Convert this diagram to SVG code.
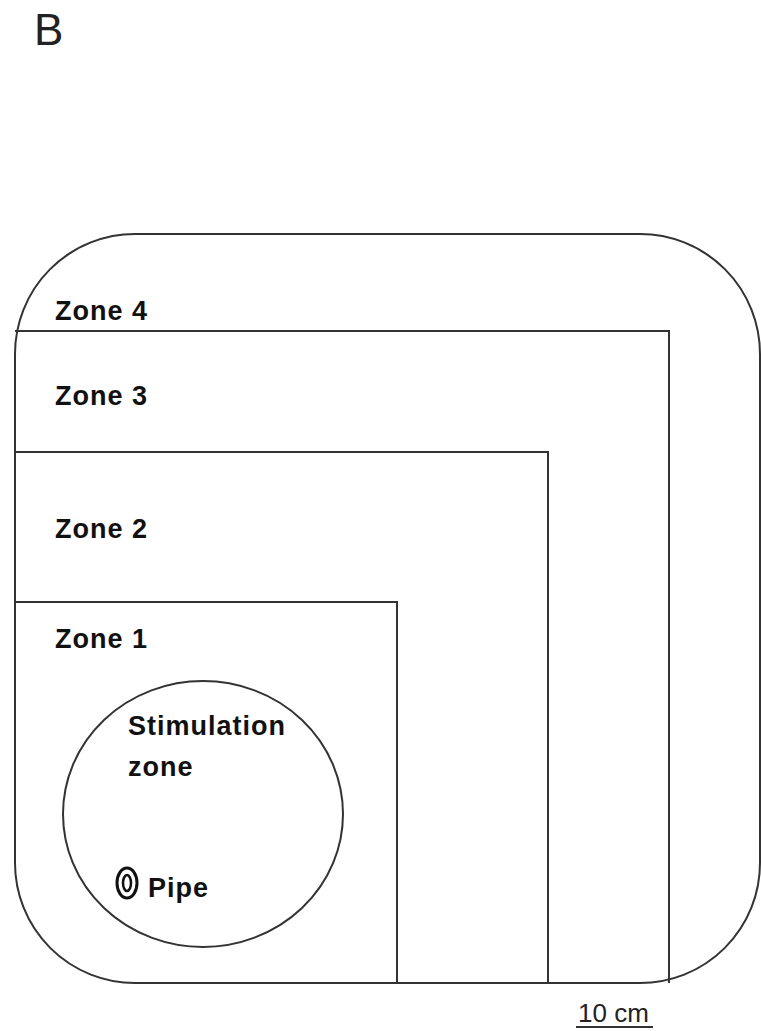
<svg xmlns="http://www.w3.org/2000/svg" width="761" height="1031" viewBox="0 0 761 1031">
<style>
.ln{fill:none;stroke:#333;stroke-width:2}
.lb{font-family:"Liberation Sans",Arial,sans-serif;font-weight:bold;font-size:27px;letter-spacing:1px;fill:#111}
.rg{font-family:"Liberation Sans",Arial,sans-serif;fill:#222}
</style>
<rect width="761" height="1031" fill="#fff"/>
<text class="rg" x="34" y="45" font-size="44">B</text>
<g id="arena">
<rect class="ln" x="15" y="234" width="745" height="749" rx="120" ry="120"/>
</g>
<g id="zones">
<polyline class="ln" points="15,331 669,331 669,983"/>
<polyline class="ln" points="15,452 548,452 548,983"/>
<polyline class="ln" points="15,602 397,602 397,983"/>
</g>
<g id="zone4"><text class="lb" x="55" y="320">Zone 4</text></g>
<g id="zone3"><text class="lb" x="55" y="405">Zone 3</text></g>
<g id="zone2"><text class="lb" x="55" y="538">Zone 2</text></g>
<g id="zone1"><text class="lb" x="55" y="648">Zone 1</text></g>
<g id="stimulation">
<ellipse class="ln" cx="203" cy="814" rx="140" ry="133"/>
<text class="lb" x="128" y="735">Stimulation</text>
<text class="lb" x="128" y="776">zone</text>
</g>
<g id="pipe">
<ellipse cx="127" cy="883" rx="10" ry="15" fill="none" stroke="#111" stroke-width="3"/>
<ellipse cx="127" cy="883" rx="4" ry="8" fill="none" stroke="#111" stroke-width="2.5"/>
<text class="lb" x="148" y="897">Pipe</text>
</g>
<g id="scale">
<text class="rg" x="578" y="1022" font-size="26">10 cm</text>
<line x1="576" y1="1027" x2="653" y2="1027" stroke="#333" stroke-width="2"/>
</g>
</svg>
